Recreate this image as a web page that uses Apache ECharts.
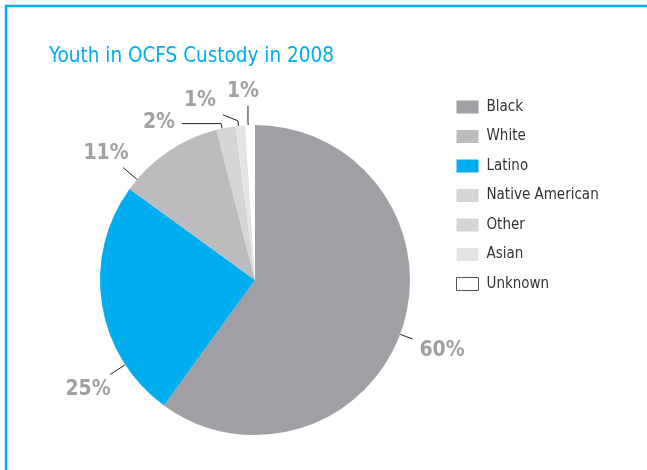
<!DOCTYPE html>
<html>
<head>
<meta charset="utf-8">
<script src="https://cdn.jsdelivr.net/npm/echarts@6/dist/echarts.min.js"></script>
<style>html,body{margin:0;padding:0;background:#fff;}#c{width:647px;height:470px;}</style>
</head>
<body>
<div id="c"></div>
<script>
const categories = ['Black', 'Latino', 'White', 'Native American', 'Other', 'Asian', 'Unknown'];
const values = [60, 25, 11, 2, 0, 1, 1];
const legendOrder = ['Black', 'White', 'Latino', 'Native American', 'Other', 'Asian', 'Unknown'];
const colors = {
  'Black': '#a09fa3', 'Latino': '#00aeef', 'White': '#bcbcbe',
  'Native American': '#d5d5d7', 'Other': '#d5d5d7', 'Asian': '#e4e4e6', 'Unknown': '#ffffff'
};
// hand-placed label anchors (centre of each text), as in the original layout
const labelPlacement = {
  'Black': [442, 351], 'Latino': [88, 390], 'White': [106, 154],
  'Native American': [159, 123], 'Asian': [200, 101], 'Unknown': [243, 92]
};
const PIE_CENTER = [255, 280];
const PIE_RADIUS = 155;
const LABEL_SIZE = 21;
const FONT = '"Liberation Sans Narrow", "DejaVu Sans Condensed", "Roboto", sans-serif';

// slice angular ranges (degrees clockwise from 12 o'clock), derived from the data
const total = values.reduce((a, b) => a + b, 0);
const ranges = [];
(function () { let c = 0; values.forEach(v => { ranges.push([c / total * 360, (c + v) / total * 360]); c += v; }); })();

function ptAt(deg, r) {
  const t = deg * Math.PI / 180;
  return [PIE_CENTER[0] + r * Math.sin(t), PIE_CENTER[1] - r * Math.cos(t)];
}
// leader line from the slice edge to the label's glyph box
function leaderLine(idx, cx, cy, w) {
  const h = LABEL_SIZE * 0.74, g = 7;
  const rx0 = cx - w / 2 - g, rx1 = cx + w / 2 + g, ry0 = cy - h / 2 - g, ry1 = cy + h / 2 + g;
  let la = Math.atan2(cx - PIE_CENTER[0], -(cy - PIE_CENTER[1])) * 180 / Math.PI;
  if (la < 0) la += 360;
  const [a0, a1] = ranges[idx];
  const inside = p => p[0] >= rx0 && p[0] <= rx1 && p[1] >= ry0 && p[1] <= ry1;
  if (la > a0 && la < a1) {
    // straight line from the edge towards the label
    const E = ptAt(la, PIE_RADIUS);
    let P = E;
    for (let f = 0; f <= 1; f += 0.01) {
      const q = [E[0] + (cx - E[0]) * f, E[1] + (cy - E[1]) * f];
      if (inside(q)) { P = q; break; }
    }
    return [E, P];
  }
  // small slice: short radial stub, then across to the label
  const m = Math.min(0.3 * (a1 - a0), 3);
  const th = Math.min(Math.max(la, a0 + m), a1 - m);
  const E = ptAt(th, PIE_RADIUS);
  const P = ptAt(th, PIE_RADIUS + 5);
  const Q = [Math.min(Math.max(P[0], rx0), rx1), Math.min(Math.max(P[1], ry0), ry1)];
  return [E, P, Q];
}

const chart = echarts.init(document.getElementById('c'), null, {renderer: 'canvas'});
const data = categories.map((name, i) => {
  const item = { name: name, value: values[i], itemStyle: { color: colors[name] } };
  if (values[i] === 0) { item.label = { show: false }; item.labelLine = { show: false }; }
  return item;
});
chart.setOption({
  animation: false,
  backgroundColor: '#ffffff',
  graphic: [{
    type: 'rect', shape: { x: 6, y: 6, width: 720, height: 520 },
    style: { fill: 'none', stroke: '#00aeef', lineWidth: 2.5 }, silent: true
  }],
  title: {
    text: 'Youth in OCFS Custody in 2008', left: 44, top: 41,
    textStyle: { color: '#00aeef', fontSize: 20.5, fontWeight: 'normal', fontFamily: FONT }
  },
  legend: {
    orient: 'vertical', left: 456, top: 99.5, padding: 0,
    itemWidth: 22, itemHeight: 13, itemGap: 14.5,
    icon: 'rect',
    textStyle: { color: '#333333', fontSize: 15, lineHeight: 13, fontFamily: FONT, padding: [0, 0, 0, 3] },
    data: legendOrder.map(n => n === 'Unknown'
      ? { name: n, itemStyle: { color: '#ffffff', borderColor: '#555555', borderWidth: 1 } }
      : { name: n })
  },
  series: [{
    type: 'pie',
    center: PIE_CENTER, radius: PIE_RADIUS,
    startAngle: 90, clockwise: true,
    avoidLabelOverlap: false,
    label: {
      show: true, formatter: '{c}%', color: '#a0a0a3', fontSize: LABEL_SIZE, fontWeight: 'bold', fontFamily: FONT
    },
    labelLine: { show: true, length: 14, length2: 8, lineStyle: { color: '#222222', width: 1 } },
    labelLayout: function (p) {
      const pos = labelPlacement[categories[p.dataIndex]];
      if (!pos) return {};
      return {
        x: pos[0], y: pos[1], align: 'center', verticalAlign: 'middle',
        labelLinePoints: leaderLine(p.dataIndex, pos[0], pos[1] - 1, p.labelRect.width)
      };
    },
    emphasis: { disabled: true },
    data: data
  }]
});
</script>
</body>
</html>
